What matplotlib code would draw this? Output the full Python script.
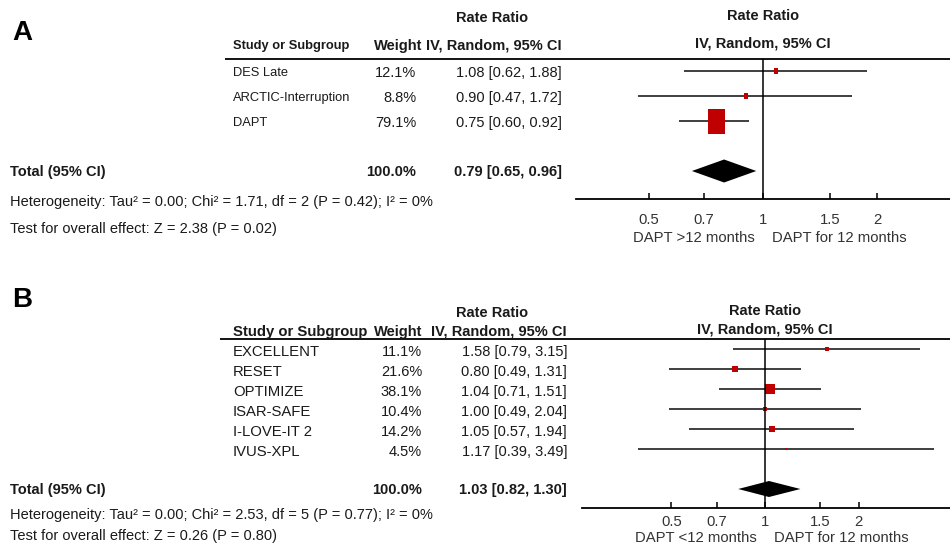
import math
import matplotlib
matplotlib.use("Agg")
import matplotlib.pyplot as plt
from matplotlib import font_manager
from matplotlib.path import Path
from matplotlib.ticker import NullLocator

# ---- panel A: DAPT >12 months vs 12 months ----
studies_a = ["DES Late", "ARCTIC-Interruption", "DAPT"]
weights_a = [12.1, 8.8, 79.1]
rr_a = [1.08, 0.90, 0.75]
lo_a = [0.62, 0.47, 0.60]
hi_a = [1.88, 1.72, 0.92]
total_a = [0.79, 0.65, 0.96]
het_a = "Heterogeneity: Tau\u00b2 = 0.00; Chi\u00b2 = 1.71, df = 2 (P = 0.42); I\u00b2 = 0%"
test_a = "Test for overall effect: Z = 2.38 (P = 0.02)"
favours_a = ["DAPT >12 months", "DAPT for 12 months"]

# ---- panel B: DAPT <12 months vs 12 months ----
studies_b = ["EXCELLENT", "RESET", "OPTIMIZE", "ISAR-SAFE", "I-LOVE-IT 2", "IVUS-XPL"]
weights_b = [11.1, 21.6, 38.1, 10.4, 14.2, 4.5]
rr_b = [1.58, 0.80, 1.04, 1.00, 1.05, 1.17]
lo_b = [0.79, 0.49, 0.71, 0.49, 0.57, 0.39]
hi_b = [3.15, 1.31, 1.51, 2.04, 1.94, 3.49]
total_b = [1.03, 0.82, 1.30]
het_b = "Heterogeneity: Tau\u00b2 = 0.00; Chi\u00b2 = 2.53, df = 5 (P = 0.77); I\u00b2 = 0%"
test_b = "Test for overall effect: Z = 0.26 (P = 0.80)"
favours_b = ["DAPT <12 months", "DAPT for 12 months"]

ticks = [0.5, 0.7, 1, 1.5, 2]
tick_labels = ["0.5", "0.7", "1", "1.5", "2"]

W, H = 950, 547
RED = "#c00000"
TXT = "#1a1a1a"

# panel A names are set in a narrow face in the original
names = {f.name for f in font_manager.fontManager.ttflist}
if "Liberation Sans Narrow" in names:
    NARROW, NARROW_SIZE = "Liberation Sans Narrow", 10.2
else:
    NARROW, NARROW_SIZE = "Liberation Sans", 9.3
plt.rcParams["font.family"] = ["Liberation Sans", "DejaVu Sans"]

fig = plt.figure(figsize=(W / 100, H / 100), dpi=100)
bg = fig.add_axes([0, 0, 1, 1])
bg.set_xlim(0, W)
bg.set_ylim(H, 0)
bg.axis("off")


def box_marker(aspect):
    a = aspect / 2
    return Path([(-a, -0.5), (a, -0.5), (a, 0.5), (-a, 0.5), (-a, -0.5)], closed=True)


def panel(letter, studies, weights, rr, lo, hi, total, het, test, favours,
          y0, dy, top, bottom, x_left, x_one, px_per_ln, box_h, box_pow, aspect,
          dia_h, tick_pad, name_font, name_size, w_right, row_off,
          letter_y, hdr_y, het_y, fav_y, line_left):
    n = len(studies)
    ty = n + 1
    # table part
    bg.text(12, letter_y, letter, fontsize=20, fontweight="bold", va="center", color="black")
    bg.text(492, hdr_y[0], "Rate Ratio", fontsize=10.5, fontweight="bold", ha="center", va="center", color=TXT)
    bg.text(233, hdr_y[1], "Study or Subgroup", fontsize=name_size, fontweight="bold",
            family=name_font, va="center", color=TXT)
    bg.text(422, hdr_y[1], "Weight", fontsize=10.5, fontweight="bold", ha="right", va="center", color=TXT)
    bg.text(w_right[1], hdr_y[1], "IV, Random, 95% CI", fontsize=10.5, fontweight="bold",
            ha="right", va="center", color=TXT)
    bg.text(x_one, hdr_y[0] - 2, "Rate Ratio", fontsize=10.5, fontweight="bold", ha="center", va="center", color=TXT)
    bg.text(x_one, hdr_y[1] - 2, "IV, Random, 95% CI", fontsize=10.5, fontweight="bold",
            ha="center", va="center", color=TXT)
    bg.hlines(top, line_left, W, color="black", lw=1.3)

    for i, (s, w, r, l, h) in enumerate(zip(studies, weights, rr, lo, hi)):
        yy = y0 + dy * i + row_off
        bg.text(233, yy, s, fontsize=name_size, family=name_font, va="center", color=TXT)
        bg.text(w_right[0], yy, f"{w:.1f}%", fontsize=10.5, ha="right", va="center", color=TXT)
        bg.text(w_right[1], yy, f"{r:.2f} [{l:.2f}, {h:.2f}]", fontsize=10.5, ha="right", va="center", color=TXT)
    yt = y0 + dy * ty + 1
    bg.text(10, yt, "Total (95% CI)", fontsize=10.5, fontweight="bold", va="center", color=TXT)
    bg.text(w_right[0], yt, "100.0%", fontsize=10.5, fontweight="bold", ha="right", va="center", color=TXT)
    bg.text(w_right[1], yt, f"{total[0]:.2f} [{total[1]:.2f}, {total[2]:.2f}]", fontsize=10.5,
            fontweight="bold", ha="right", va="center", color=TXT)
    bg.text(10, het_y[0], het, fontsize=10.5, va="center", color=TXT)
    bg.text(10, het_y[1], test, fontsize=10.5, va="center", color=TXT)
    bg.text(x_one - 8, fav_y, favours[0], fontsize=10.7, ha="right", va="center", color="#333333")
    bg.text(x_one + 9, fav_y, favours[1], fontsize=10.7, ha="left", va="center", color="#333333")

    # forest part
    ax = fig.add_axes([x_left / W, 1 - bottom / H, (W - x_left) / W, (bottom - top) / H])
    ax.patch.set_alpha(0)
    ax.set_xscale("log")
    ax.set_xlim(math.exp((x_left - x_one) / px_per_ln), math.exp((W - x_one) / px_per_ln))
    ax.set_ylim((bottom - y0) / dy, (top - y0) / dy)
    rows = list(range(n))
    ax.hlines(rows, lo, hi, color="#303030", lw=1.3)
    wmax = max(weights)
    for yy, v, w in zip(rows, rr, weights):
        hpx = box_h * (w / wmax) ** box_pow
        ax.plot(v, yy, marker=box_marker(aspect), ms=hpx * 0.72, color=RED, mew=0, ls="none")
    est, tl, th = total
    ax.fill([tl, est, th, est], [ty, ty - dia_h, ty, ty + dia_h], color="black", lw=0)
    ax.axvline(1, color="black", lw=1.1)
    for side in ["top", "left", "right"]:
        ax.spines[side].set_visible(False)
    ax.spines["bottom"].set_linewidth(1.3)
    ax.set_yticks([])
    ax.set_xticks(ticks)
    ax.set_xticklabels(tick_labels)
    ax.xaxis.set_minor_locator(NullLocator())
    ax.tick_params(axis="x", direction="in", length=4.5, width=1.1, pad=tick_pad,
                   labelsize=10.7, labelcolor="#333333")
    return ax


panel("A", studies_a, weights_a, rr_a, lo_a, hi_a, total_a, het_a, test_a, favours_a,
      y0=71, dy=25, top=59, bottom=199, x_left=576, x_one=763, px_per_ln=165,
      box_h=25, box_pow=0.7, aspect=0.68, dia_h=0.46, tick_pad=10, name_font=NARROW,
      name_size=NARROW_SIZE, w_right=(416, 562), row_off=2,
      letter_y=33, hdr_y=(18, 46), het_y=(202, 229), fav_y=238, line_left=225)

panel("B", studies_b, weights_b, rr_b, lo_b, hi_b, total_b, het_b, test_b, favours_b,
      y0=349, dy=20, top=339, bottom=508, x_left=582, x_one=765, px_per_ln=135,
      box_h=9.5, box_pow=0.6, aspect=1.0, dia_h=0.4, tick_pad=5, name_font="Liberation Sans",
      name_size=10.7, w_right=(422, 567), row_off=3,
      letter_y=300, hdr_y=(313, 332), het_y=(515, 536), fav_y=538, line_left=220)

fig.savefig("out.png", dpi=100)
